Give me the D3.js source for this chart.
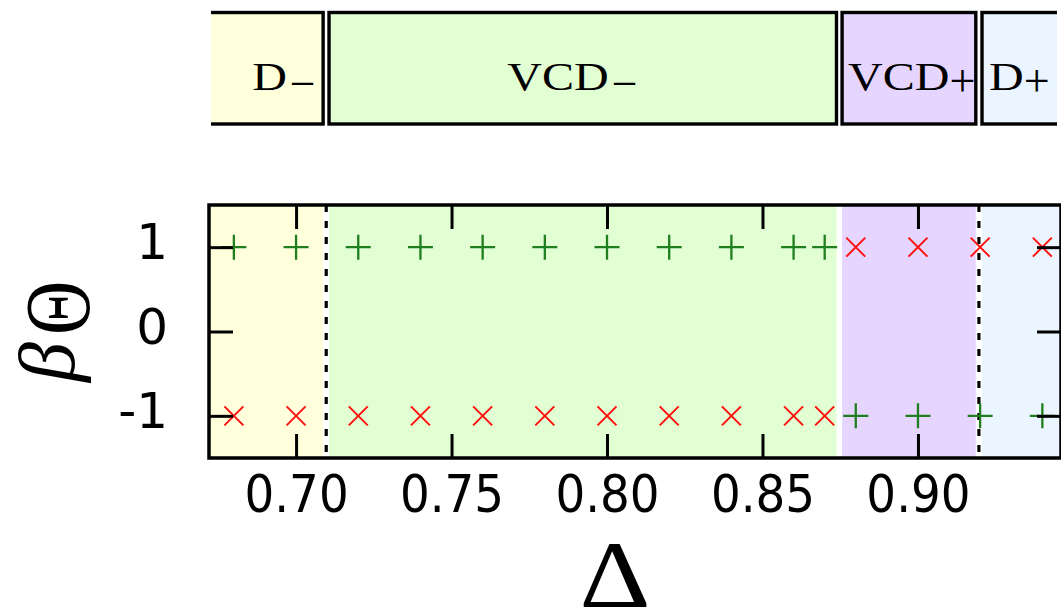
<!DOCTYPE html>
<html><head><meta charset="utf-8">
<script src="https://cdn.jsdelivr.net/npm/d3@7"></script>
<style>html,body{margin:0;padding:0;background:#fff;overflow:hidden} svg{display:block}</style>
</head><body><svg id="c" width="1061" height="613"></svg>
<script>
// ---- data ----
const deltas    = [0.68,0.70,0.72,0.74,0.76,0.78,0.80,0.82,0.84,0.86,0.87,0.88,0.90,0.92,0.94];
const plusBeta  = [1,1,1,1,1,1,1,1,1,1,1,-1,-1,-1,-1];
const crossBeta = [-1,-1,-1,-1,-1,-1,-1,-1,-1,-1,-1,1,1,1,1];
const regionNames  = ["D","VCD","VCD","D"];
const regionSigns  = ["−","−","+","+"];
const regionStart  = [0.66,0.7106,0.8756,0.9206];
const regionEnd    = [0.7087,0.8738,0.9186,0.96];
const regionColors = ["#ffffdc","#e1ffd2","#e5d5ff","#ebf5ff"];
const labelCenter  = [0.6961,0.7889,0.8980,0.9326];
const boundaries   = [0.7097,0.9196];
const xTicks = [0.70,0.75,0.80,0.85,0.90];
const yTicks = [-1,0,1];

// ---- layout ----
const svg = d3.select("#c");
const x = d3.scaleLinear().domain([0.672,0.946]).range([209,1061]);
const y = d3.scaleLinear().domain([-1.5,1.5]).range([458,205]);
const regions = regionNames.map((n,i)=>({name:n,sign:regionSigns[i],x0:regionStart[i],x1:regionEnd[i],color:regionColors[i],cx:labelCenter[i]}));

const defs = svg.append("defs");
defs.append("clipPath").attr("id","plotclip").append("rect")
  .attr("x",x.range()[0]).attr("y",y.range()[1]).attr("width",x.range()[1]-x.range()[0]).attr("height",y.range()[0]-y.range()[1]);
defs.append("clipPath").attr("id","topclip").append("rect")
  .attr("x",211).attr("y",0).attr("width",1057-211).attr("height",140);

// ---- top panel ----
const topPanel = svg.append("g").attr("clip-path","url(#topclip)");
topPanel.selectAll("rect").data(regions).join("rect")
  .attr("x",d=>x(d.x0)).attr("width",d=>x(d.x1)-x(d.x0))
  .attr("y",12.5).attr("height",124-12.5)
  .attr("fill",d=>d.color).attr("stroke","#000").attr("stroke-width",3.4);

const serif = "'Liberation Serif','Times New Roman',serif";
regions.forEach(d=>{
  const g = svg.append("g");
  const sx = 1.2;
  const main = g.append("text").text(d.name)
    .attr("font-family",serif).attr("font-size",40).attr("fill","#000");
  const W = main.node().getComputedTextLength()*sx;
  const sub = g.append("text").text(d.sign)
    .attr("font-family",serif).attr("font-size",46).attr("fill","#000");
  const S = sub.node().getComputedTextLength();
  const gap = d.sign==="+" ? 0 : 3;
  const start = x(d.cx) - (W+gap+S)/2;
  main.attr("transform",`translate(${start},90) scale(${sx},1)`);
  sub.attr("transform",`translate(${start+W+gap},${d.sign==="+"?95.5:98.5})`);
});

// ---- bottom panel ----
const plot = svg.append("g").attr("clip-path","url(#plotclip)");
plot.selectAll("rect.bg").data(regions).join("rect").attr("class","bg")
  .attr("x",d=>x(d.x0)).attr("width",d=>x(d.x1)-x(d.x0))
  .attr("y",y(1.5)).attr("height",y(-1.5)-y(1.5)).attr("fill",d=>d.color);

plot.selectAll("line.bd").data(boundaries).join("line").attr("class","bd")
  .attr("x1",d=>x(d)).attr("x2",d=>x(d)).attr("y1",y(1.5)).attr("y2",y(-1.5))
  .attr("stroke","#000").attr("stroke-width",3.2).attr("stroke-dasharray","7,9");

const pts = deltas.map((d,i)=>({d, p:plusBeta[i], c:crossBeta[i]}));
const green = "#1f7f1f", red = "#ff1010";
const ph = 12.5, ch = 9.5;
const pg = plot.selectAll("g.plus").data(pts).join("g").attr("class","plus")
  .attr("transform",d=>`translate(${x(d.d)},${y(d.p)})`);
pg.append("path").attr("d",`M${-ph},0H${ph}M0,${-ph}V${ph}`).attr("stroke",green).attr("stroke-width",2.3).attr("fill","none");
const cg = plot.selectAll("g.cross").data(pts).join("g").attr("class","cross")
  .attr("transform",d=>`translate(${x(d.d)},${y(d.c)})`);
cg.append("path").attr("d",`M${-ch},${-ch}L${ch},${ch}M${-ch},${ch}L${ch},${-ch}`).attr("stroke",red).attr("stroke-width",2).attr("fill","none");

// ---- axes ----
const sans = "'DejaVu Sans',Verdana,sans-serif";
const tk = 24;
const axB = svg.append("g").attr("transform",`translate(0,${y.range()[0]})`)
  .call(d3.axisBottom(x).tickValues(xTicks).tickSizeInner(-tk).tickSizeOuter(0).tickFormat(d3.format(".2f")));
const axT = svg.append("g").attr("transform",`translate(0,${y.range()[1]})`)
  .call(d3.axisTop(x).tickValues(xTicks).tickSizeInner(-tk).tickSizeOuter(0).tickFormat(""));
const axL = svg.append("g").attr("transform",`translate(${x.range()[0]},0)`)
  .call(d3.axisLeft(y).tickValues(yTicks).tickSizeInner(-tk).tickSizeOuter(0).tickFormat(d=>String(d)));
const axR = svg.append("g").attr("transform",`translate(${x.range()[1]},0)`)
  .call(d3.axisRight(y).tickValues(yTicks).tickSizeInner(-tk).tickSizeOuter(0).tickFormat(""));
[axB,axT,axL,axR].forEach(a=>{
  a.select(".domain").remove();
  a.selectAll(".tick line").attr("stroke","#000").attr("stroke-width",3);
});
axB.selectAll("text").attr("y",53.7).attr("dy",null).attr("fill","#000")
  .attr("font-family",sans).attr("font-size",52).attr("transform","scale(0.9,1)");
axL.selectAll("text").attr("x",-41).attr("dy",null).attr("y",11.5).attr("fill","#000")
  .attr("font-family",sans).attr("font-size",50).attr("text-anchor","end");

// border
svg.append("rect").attr("x",x.range()[0]).attr("y",y.range()[1])
  .attr("width",x.range()[1]-x.range()[0]).attr("height",y.range()[0]-y.range()[1])
  .attr("fill","none").attr("stroke","#000").attr("stroke-width",3.5);

// ---- axis titles ----
svg.append("text").text("Δ").attr("font-family",serif).attr("font-size",96)
  .attr("text-anchor","middle").attr("transform","translate(615,607) scale(1.15,1)").attr("fill","#000");
svg.append("text").text("β").attr("font-family",serif).attr("font-style","italic").attr("font-size",80)
  .attr("transform","translate(74,382) rotate(-90)").attr("fill","#000");
svg.append("text").text("Θ").attr("font-family",serif).attr("font-size",94)
  .attr("transform","translate(89,335) rotate(-90) scale(0.8,1)").attr("fill","#000");
</script>
</body></html>
